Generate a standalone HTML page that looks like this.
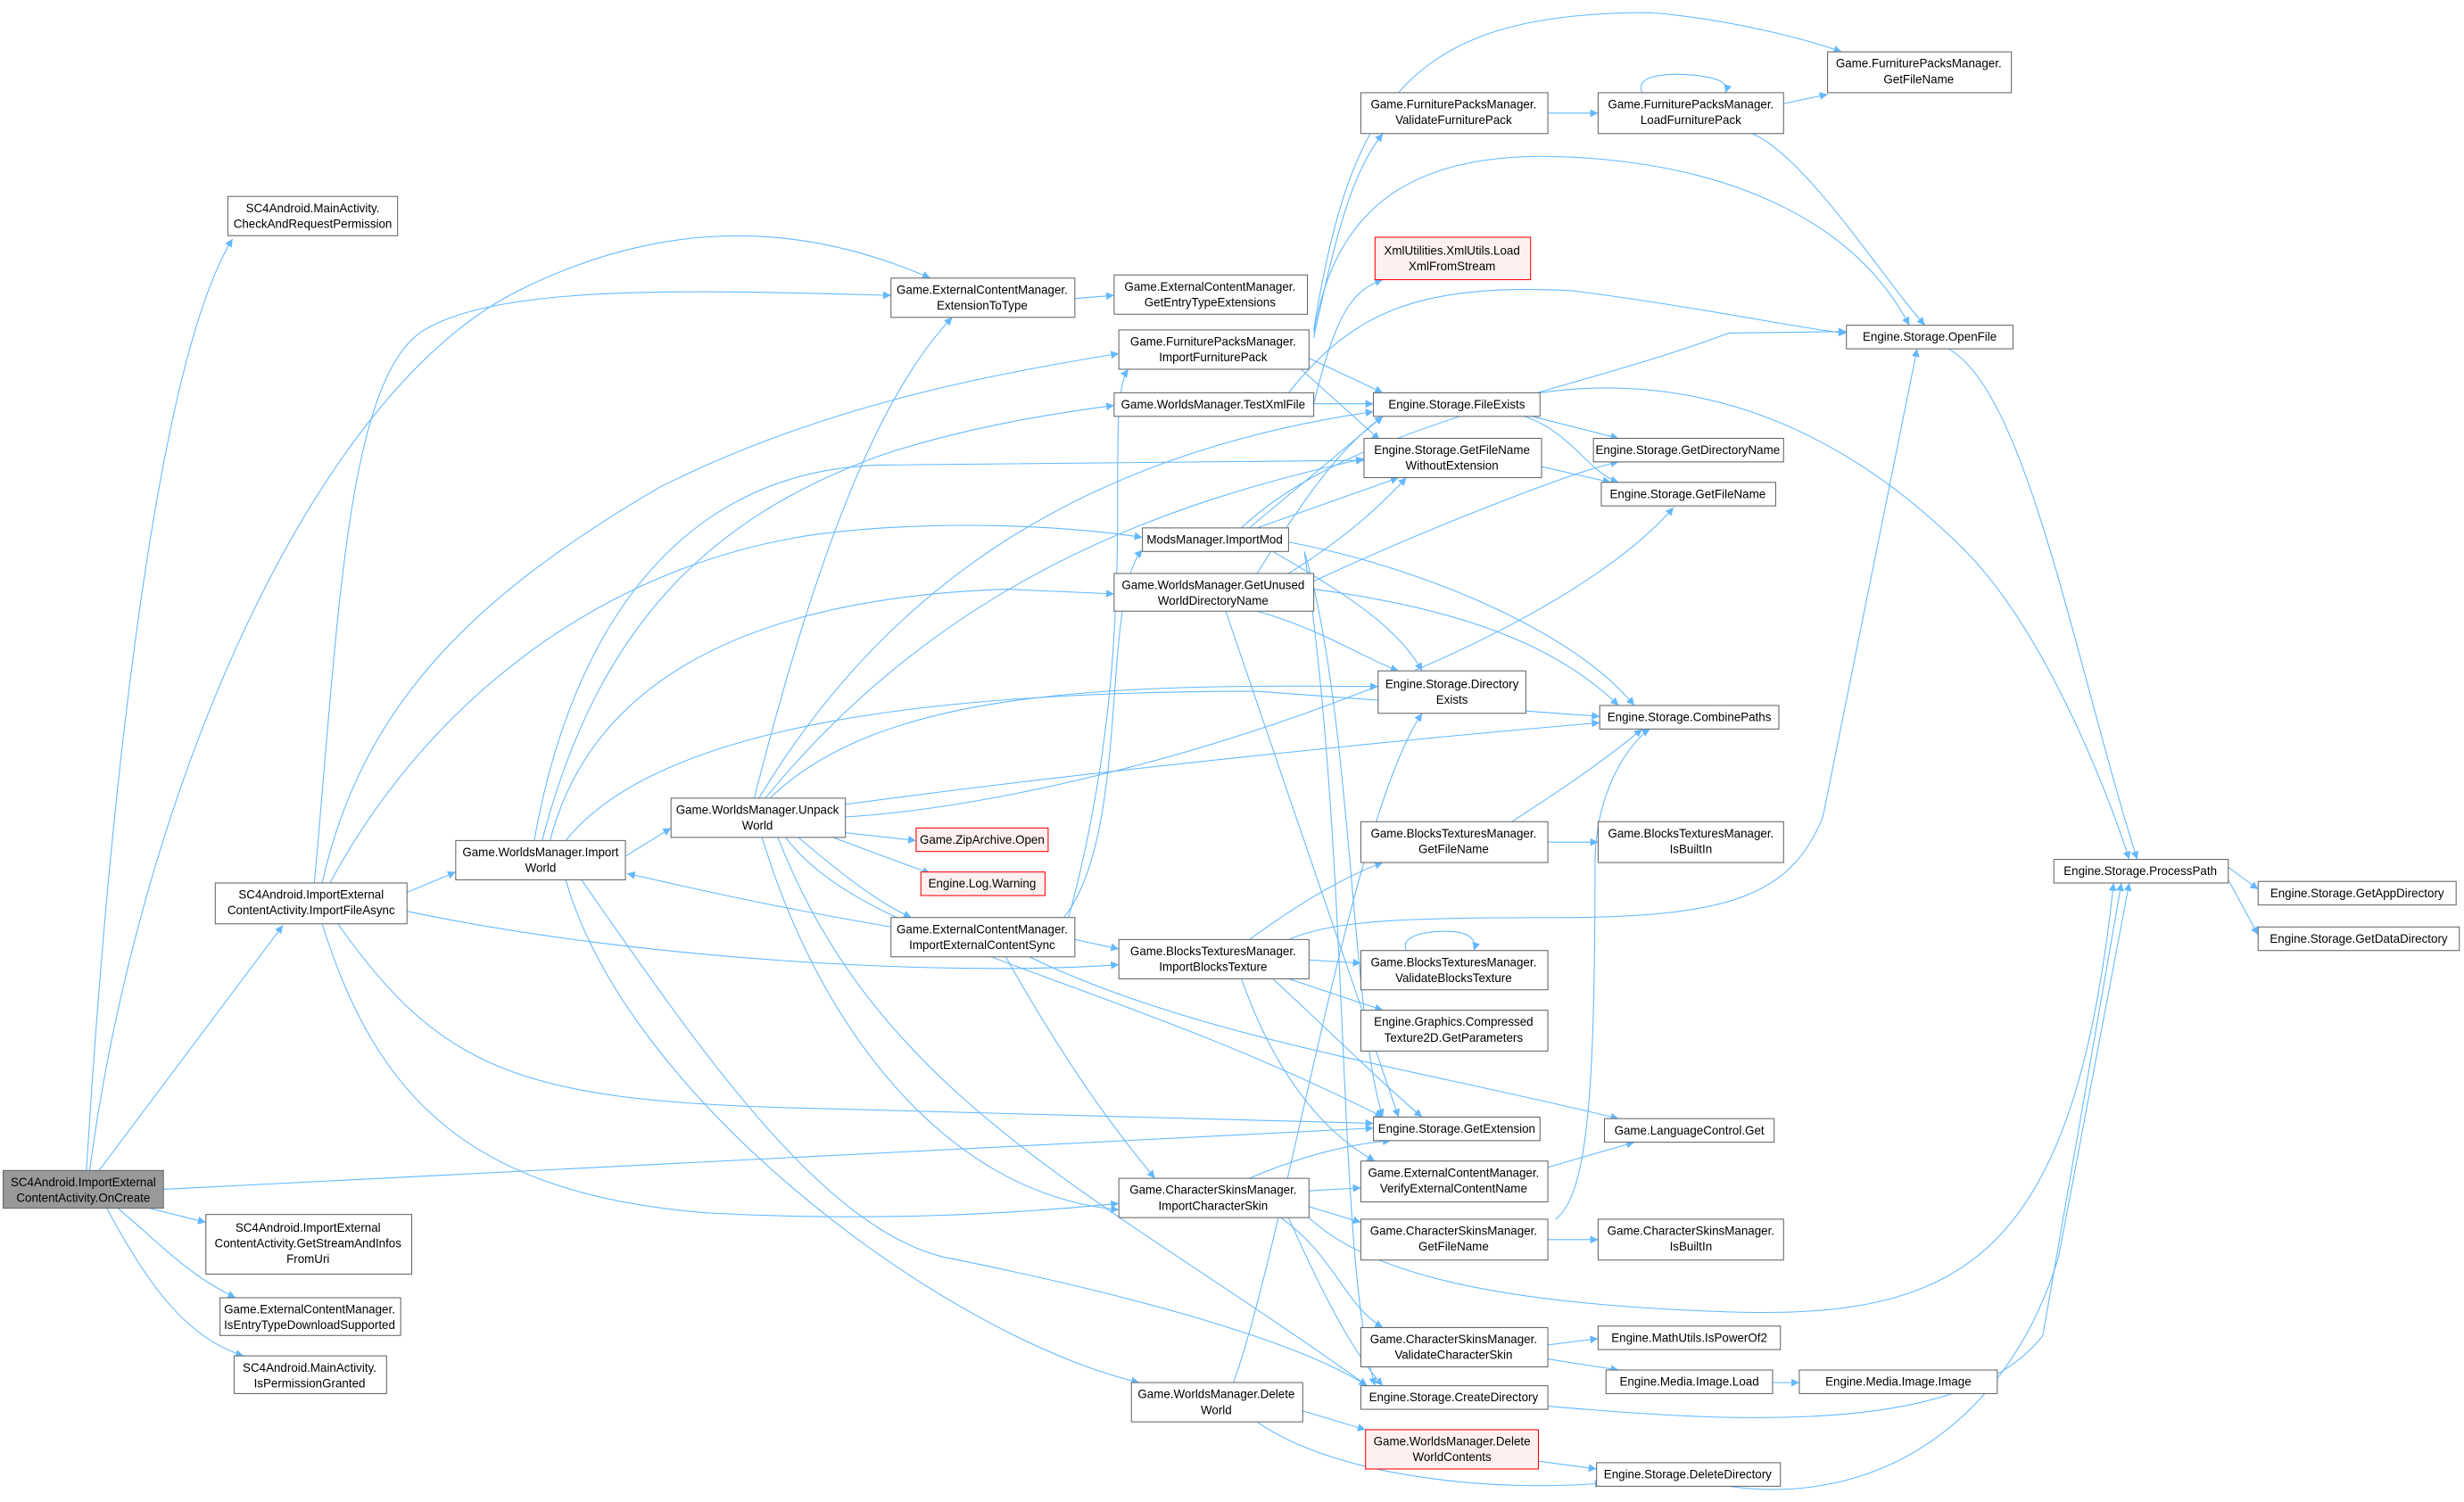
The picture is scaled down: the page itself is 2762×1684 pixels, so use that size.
<!DOCTYPE html>
<html><head><meta charset="utf-8"><style>
html,body{margin:0;padding:0;background:#fff;}
svg{display:block;}
text{font-family:"Liberation Sans",sans-serif;font-size:7.6px;fill:#000;text-anchor:middle;}
.n{fill:#fff;stroke:#666;stroke-width:0.6;}
.r{fill:#fff0f0;stroke:#f00;stroke-width:0.6;}
.g{fill:#999;stroke:#666;stroke-width:0.6;}
.e{fill:none;stroke:#63b8ff;stroke-width:0.6;marker-end:url(#a);}
</style></head><body>
<svg width="2762" height="1684" viewBox="0 0 1568 956" xmlns="http://www.w3.org/2000/svg">
<defs><marker id="a" viewBox="0 0 10 10" refX="10" refY="5" markerWidth="7" markerHeight="5" markerUnits="userSpaceOnUse" orient="auto"><path d="M0,0 L10,5 L0,10z" fill="#63b8ff"/></marker></defs>
<g>
<path class="e" d="M55,745 C70,500 100,230 148,152"/>
<path class="e" d="M57,745 C90,500 200,250 330,185 C440,130 530,150 592,177"/>
<path class="e" d="M63,745 L180,589"/>
<path class="e" d="M104,757 L874,718"/>
<path class="e" d="M95,769 L131,778"/>
<path class="e" d="M75,769 C100,790 120,812 150,826"/>
<path class="e" d="M68,769 C95,820 120,852 155,863"/>
<path class="e" d="M200,562 C215,400 220,240 270,210 C320,180 450,185 567,188"/>
<path class="e" d="M205,562 C230,450 300,380 420,310 C520,260 620,240 712,225"/>
<path class="e" d="M210,562 C270,450 380,360 520,340 C600,330 680,335 727,342"/>
<path class="e" d="M259,568 L290,555"/>
<path class="e" d="M259,580 C400,610 600,622 712,614"/>
<path class="e" d="M215,588 C280,680 330,700 500,705 L874,715"/>
<path class="e" d="M205,588 C240,700 300,760 450,772 C560,778 650,772 712,766"/>
<path class="e" d="M345,535 C380,400 450,330 560,290 C620,270 680,262 709,258"/>
<path class="e" d="M340,535 C360,420 420,300 560,296 L868,293"/>
<path class="e" d="M350,535 C380,420 500,380 640,375 L709,378"/>
<path class="e" d="M360,535 C420,460 600,440 800,440 L1018,456"/>
<path class="e" d="M398,545 L427,527"/>
<path class="e" d="M360,560 C400,700 600,850 725,880"/>
<path class="e" d="M370,560 C440,660 520,780 600,800 C700,820 820,850 870,882"/>
<path class="e" d="M567,590 C480,575 440,565 399,556"/>
<path class="e" d="M480,508 C520,350 560,250 606,202"/>
<path class="e" d="M483,508 C560,380 680,290 874,262"/>
<path class="e" d="M487,508 C600,370 740,320 868,292"/>
<path class="e" d="M490,508 C560,440 700,435 877,437"/>
<path class="e" d="M538,512 C700,490 900,470 1018,460"/>
<path class="e" d="M538,520 C700,510 980,420 1065,323"/>
<path class="e" d="M538,530 L583,535"/>
<path class="e" d="M530,533 L592,556"/>
<path class="e" d="M508,533 C540,560 560,575 580,584"/>
<path class="e" d="M500,533 C550,600 700,620 880,711"/>
<path class="e" d="M495,533 C560,700 700,760 870,882"/>
<path class="e" d="M485,533 C520,650 600,760 712,770"/>
<path class="e" d="M677,584 C720,530 700,380 727,350"/>
<path class="e" d="M680,584 C730,400 700,260 718,235"/>
<path class="e" d="M684,598 L712,604"/>
<path class="e" d="M640,609 C680,680 710,720 735,750"/>
<path class="e" d="M655,609 C760,660 900,680 1030,712"/>
<path class="e" d="M833,228 L880,250"/>
<path class="e" d="M828,235 L878,280"/>
<path class="e" d="M836,215 C850,150 860,110 880,85"/>
<path class="e" d="M836,212 C850,130 900,95 1000,100 C1100,105 1180,140 1215,207"/>
<path class="e" d="M836,210 C860,60 900,8 1050,8 C1100,12 1150,25 1172,33"/>
<path class="e" d="M836,257 C850,200 860,185 880,178"/>
<path class="e" d="M836,257 L874,257"/>
<path class="e" d="M820,250 C860,200 900,180 1000,185 C1080,195 1150,210 1175,212"/>
<path class="e" d="M790,336 C860,270 1000,250 1100,212 L1175,211"/>
<path class="e" d="M795,336 L880,265"/>
<path class="e" d="M800,336 L890,304"/>
<path class="e" d="M810,351 C860,380 890,400 905,427"/>
<path class="e" d="M820,345 C900,360 1000,400 1040,449"/>
<path class="e" d="M830,351 C860,450 860,650 880,711"/>
<path class="e" d="M830,351 C860,550 850,800 875,882"/>
<path class="e" d="M800,389 C840,400 870,420 890,427"/>
<path class="e" d="M836,375 C950,390 1000,420 1030,449"/>
<path class="e" d="M836,370 C900,340 1000,300 1030,294"/>
<path class="e" d="M820,365 C860,340 880,320 895,304"/>
<path class="e" d="M780,389 L890,711"/>
<path class="e" d="M800,365 C840,300 860,280 880,265"/>
<path class="e" d="M985,72 L1017,72"/>
<path class="e" d="M1045,59 C1040,48 1060,46 1080,48 C1095,50 1100,53 1098,59"/>
<path class="e" d="M1135,66 L1163,60"/>
<path class="e" d="M1115,85 C1150,100 1200,180 1225,207"/>
<path class="e" d="M1240,222 C1290,250 1320,420 1360,547"/>
<path class="e" d="M980,250 C1050,240 1150,250 1250,350 C1300,400 1340,500 1355,547"/>
<path class="e" d="M975,265 L1030,279"/>
<path class="e" d="M970,265 C1000,275 1010,300 1030,307"/>
<path class="e" d="M981,297 L1025,307"/>
<path class="e" d="M962,523 C990,505 1020,485 1045,464"/>
<path class="e" d="M985,536 L1017,536"/>
<path class="e" d="M795,598 C820,580 850,560 880,549"/>
<path class="e" d="M833,611 L866,613"/>
<path class="e" d="M895,605 C890,595 910,592 925,593 C935,594 940,598 938,605"/>
<path class="e" d="M820,623 L880,643"/>
<path class="e" d="M810,623 C850,660 880,690 905,711"/>
<path class="e" d="M790,623 C810,680 840,720 875,739"/>
<path class="e" d="M820,598 C850,585 900,584 1000,584 C1100,583 1140,570 1160,520 L1220,222"/>
<path class="e" d="M795,750 C830,735 860,728 885,726"/>
<path class="e" d="M833,758 L866,756"/>
<path class="e" d="M833,768 L866,778"/>
<path class="e" d="M815,775 C850,800 855,830 880,845"/>
<path class="e" d="M820,775 C840,820 860,860 880,882"/>
<path class="e" d="M833,775 C870,810 950,830 1100,835 C1250,840 1320,800 1345,562"/>
<path class="e" d="M985,743 L1040,727"/>
<path class="e" d="M985,789 L1017,789"/>
<path class="e" d="M990,776 C1010,760 1015,700 1015,550 C1015,500 1040,470 1050,464"/>
<path class="e" d="M985,856 L1017,852"/>
<path class="e" d="M985,865 L1030,872"/>
<path class="e" d="M1128,880 L1145,880"/>
<path class="e" d="M985,895 C1100,905 1250,915 1300,850 L1350,562"/>
<path class="e" d="M829,898 L869,910"/>
<path class="e" d="M800,905 C850,940 950,950 1020,944"/>
<path class="e" d="M979,930 L1016,935"/>
<path class="e" d="M1100,946 C1200,960 1280,900 1310,800 L1355,562"/>
<path class="e" d="M785,880 C820,780 860,520 905,454"/>
<path class="e" d="M1418,552 L1437,566"/>
<path class="e" d="M1418,560 L1437,595"/>
<path class="e" d="M684,190 L709,188"/>
</g>
<g>
<rect class="g" x="2" y="745" width="102" height="24"/><text x="53" y="755">SC4Android.ImportExternal</text><text x="53" y="765">ContentActivity.OnCreate</text>
<rect class="n" x="145" y="125" width="108" height="25"/><text x="199" y="135">SC4Android.MainActivity.</text><text x="199" y="145">CheckAndRequestPermission</text>
<rect class="n" x="137" y="562" width="122" height="26"/><text x="198" y="572">SC4Android.ImportExternal</text><text x="198" y="582">ContentActivity.ImportFileAsync</text>
<rect class="n" x="131" y="773" width="131" height="38"/><text x="196" y="784">SC4Android.ImportExternal</text><text x="196" y="794">ContentActivity.GetStreamAndInfos</text><text x="196" y="804">FromUri</text>
<rect class="n" x="140" y="826" width="115" height="24"/><text x="197" y="836">Game.ExternalContentManager.</text><text x="197" y="846">IsEntryTypeDownloadSupported</text>
<rect class="n" x="149" y="863" width="97" height="24"/><text x="197" y="873">SC4Android.MainActivity.</text><text x="197" y="883">IsPermissionGranted</text>
<rect class="n" x="567" y="177" width="117" height="25"/><text x="625" y="187">Game.ExternalContentManager.</text><text x="625" y="197">ExtensionToType</text>
<rect class="n" x="709" y="175" width="123" height="25"/><text x="770" y="185">Game.ExternalContentManager.</text><text x="770" y="195">GetEntryTypeExtensions</text>
<rect class="n" x="712" y="210" width="121" height="25"/><text x="772" y="220">Game.FurniturePacksManager.</text><text x="772" y="230">ImportFurniturePack</text>
<rect class="n" x="709" y="250" width="127" height="15"/><text x="772" y="260">Game.WorldsManager.TestXmlFile</text>
<rect class="n" x="727" y="336" width="93" height="15"/><text x="773" y="346">ModsManager.ImportMod</text>
<rect class="n" x="709" y="365" width="127" height="24"/><text x="772" y="375">Game.WorldsManager.GetUnused</text><text x="772" y="385">WorldDirectoryName</text>
<rect class="n" x="290" y="535" width="108" height="25"/><text x="344" y="545">Game.WorldsManager.Import</text><text x="344" y="555">World</text>
<rect class="n" x="427" y="508" width="111" height="25"/><text x="482" y="518">Game.WorldsManager.Unpack</text><text x="482" y="528">World</text>
<rect class="r" x="583" y="527" width="84" height="15"/><text x="625" y="537">Game.ZipArchive.Open</text>
<rect class="r" x="586" y="555" width="79" height="15"/><text x="625" y="565">Engine.Log.Warning</text>
<rect class="n" x="567" y="584" width="117" height="25"/><text x="625" y="594">Game.ExternalContentManager.</text><text x="625" y="604">ImportExternalContentSync</text>
<rect class="n" x="712" y="598" width="121" height="25"/><text x="772" y="608">Game.BlocksTexturesManager.</text><text x="772" y="618">ImportBlocksTexture</text>
<rect class="n" x="712" y="750" width="121" height="25"/><text x="772" y="760">Game.CharacterSkinsManager.</text><text x="772" y="770">ImportCharacterSkin</text>
<rect class="n" x="720" y="880" width="109" height="25"/><text x="774" y="890">Game.WorldsManager.Delete</text><text x="774" y="900">World</text>
<rect class="n" x="866" y="59" width="119" height="26"/><text x="925" y="69">Game.FurniturePacksManager.</text><text x="925" y="79">ValidateFurniturePack</text>
<rect class="n" x="1017" y="59" width="118" height="26"/><text x="1076" y="69">Game.FurniturePacksManager.</text><text x="1076" y="79">LoadFurniturePack</text>
<rect class="n" x="1163" y="33" width="117" height="26"/><text x="1221" y="43">Game.FurniturePacksManager.</text><text x="1221" y="53">GetFileName</text>
<rect class="r" x="875" y="151" width="99" height="27"/><text x="924" y="162">XmlUtilities.XmlUtils.Load</text><text x="924" y="172">XmlFromStream</text>
<rect class="n" x="1175" y="207" width="106" height="15"/><text x="1228" y="217">Engine.Storage.OpenFile</text>
<rect class="n" x="874" y="250" width="106" height="15"/><text x="927" y="260">Engine.Storage.FileExists</text>
<rect class="n" x="868" y="279" width="113" height="25"/><text x="924" y="289">Engine.Storage.GetFileName</text><text x="924" y="299">WithoutExtension</text>
<rect class="n" x="1014" y="279" width="121" height="15"/><text x="1074" y="289">Engine.Storage.GetDirectoryName</text>
<rect class="n" x="1019" y="307" width="111" height="15"/><text x="1074" y="317">Engine.Storage.GetFileName</text>
<rect class="n" x="877" y="427" width="94" height="27"/><text x="924" y="438">Engine.Storage.Directory</text><text x="924" y="448">Exists</text>
<rect class="n" x="1018" y="449" width="114" height="15"/><text x="1075" y="459">Engine.Storage.CombinePaths</text>
<rect class="n" x="866" y="523" width="119" height="26"/><text x="925" y="533">Game.BlocksTexturesManager.</text><text x="925" y="543">GetFileName</text>
<rect class="n" x="1017" y="523" width="118" height="26"/><text x="1076" y="533">Game.BlocksTexturesManager.</text><text x="1076" y="543">IsBuiltIn</text>
<rect class="n" x="866" y="605" width="119" height="25"/><text x="925" y="615">Game.BlocksTexturesManager.</text><text x="925" y="625">ValidateBlocksTexture</text>
<rect class="n" x="866" y="643" width="119" height="26"/><text x="925" y="653">Engine.Graphics.Compressed</text><text x="925" y="663">Texture2D.GetParameters</text>
<rect class="n" x="874" y="711" width="106" height="15"/><text x="927" y="721">Engine.Storage.GetExtension</text>
<rect class="n" x="866" y="739" width="119" height="26"/><text x="925" y="749">Game.ExternalContentManager.</text><text x="925" y="759">VerifyExternalContentName</text>
<rect class="n" x="1021" y="712" width="108" height="15"/><text x="1075" y="722">Game.LanguageControl.Get</text>
<rect class="n" x="866" y="776" width="119" height="26"/><text x="925" y="786">Game.CharacterSkinsManager.</text><text x="925" y="796">GetFileName</text>
<rect class="n" x="1017" y="776" width="118" height="26"/><text x="1076" y="786">Game.CharacterSkinsManager.</text><text x="1076" y="796">IsBuiltIn</text>
<rect class="n" x="866" y="845" width="119" height="25"/><text x="925" y="855">Game.CharacterSkinsManager.</text><text x="925" y="865">ValidateCharacterSkin</text>
<rect class="n" x="1017" y="844" width="116" height="15"/><text x="1075" y="854">Engine.MathUtils.IsPowerOf2</text>
<rect class="n" x="1022" y="872" width="106" height="15"/><text x="1075" y="882">Engine.Media.Image.Load</text>
<rect class="n" x="1145" y="872" width="126" height="15"/><text x="1208" y="882">Engine.Media.Image.Image</text>
<rect class="n" x="866" y="882" width="119" height="15"/><text x="925" y="892">Engine.Storage.CreateDirectory</text>
<rect class="r" x="869" y="910" width="110" height="25"/><text x="924" y="920">Game.WorldsManager.Delete</text><text x="924" y="930">WorldContents</text>
<rect class="n" x="1016" y="931" width="117" height="15"/><text x="1074" y="941">Engine.Storage.DeleteDirectory</text>
<rect class="n" x="1307" y="547" width="111" height="15"/><text x="1362" y="557">Engine.Storage.ProcessPath</text>
<rect class="n" x="1437" y="561" width="126" height="15"/><text x="1500" y="571">Engine.Storage.GetAppDirectory</text>
<rect class="n" x="1437" y="590" width="128" height="15"/><text x="1501" y="600">Engine.Storage.GetDataDirectory</text>
</g>
</svg>
</body></html>
